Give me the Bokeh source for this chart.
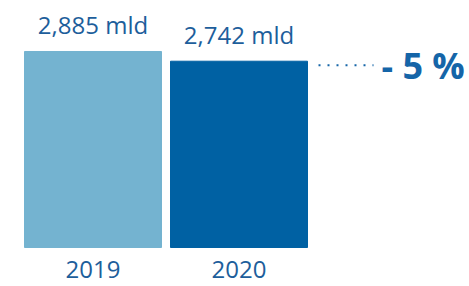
from bokeh.plotting import figure
from bokeh.models import Range1d, ColumnDataSource
from bokeh.core.properties import value
from bokeh.embed import file_html
from bokeh.resources import INLINE

years = ["2019", "2020"]
values = [2.885, 2.742]
labels = ["2,885 mld", "2,742 mld"]
colors = ["#74B3D0", "#0061A3"]
change_label = "- 5 %"

W, H = 469, 286
px_per_unit = 67.94
y0_page = 247  # baseline pixel from top of figure
y_start = -(H - y0_page) / px_per_unit
y_end = y0_page / px_per_unit

p = figure(width=W, height=H, output_backend="svg", toolbar_location=None,
           x_range=Range1d(0, W), y_range=Range1d(y_start, y_end),
           min_border=0)
p.axis.visible = False
p.grid.visible = False
p.outline_line_color = None
p.background_fill_color = None
p.border_fill_color = "white"

xs = [92.5 + 146 * i for i in range(len(years))]
src = ColumnDataSource(dict(x=xs, top=values, label=labels, year=years, color=colors))

p.vbar(x="x", top="top", bottom=0, width=137, color="color", source=src)

txt = "#1D5E9B"
p.text(x="x", y="top", text="label", source=src, text_align="center",
       text_baseline="alphabetic", y_offset=-27, text_font=value("Open Sans"),
       text_font_size="24px", text_color=txt)
p.text(x="x", y=0, text="year", source=src, text_align="center",
       text_baseline="alphabetic", y_offset=22, text_font=value("Open Sans"),
       text_font_size="24px", text_color=txt)

line_y = values[1] - 4 / px_per_unit
p.segment(x0=[318], x1=[373], y0=[line_y], y1=[line_y], line_color="#1565A8",
          line_width=2, line_dash="2 7")
p.text(x=[381], y=[values[1]], text=[change_label], text_align="left",
       text_baseline="alphabetic", y_offset=4, text_font=value("Open Sans"),
       text_font_style="bold", text_font_size="36px", text_color="#1565A8")

open("out.html", "w").write(file_html(p, INLINE))
